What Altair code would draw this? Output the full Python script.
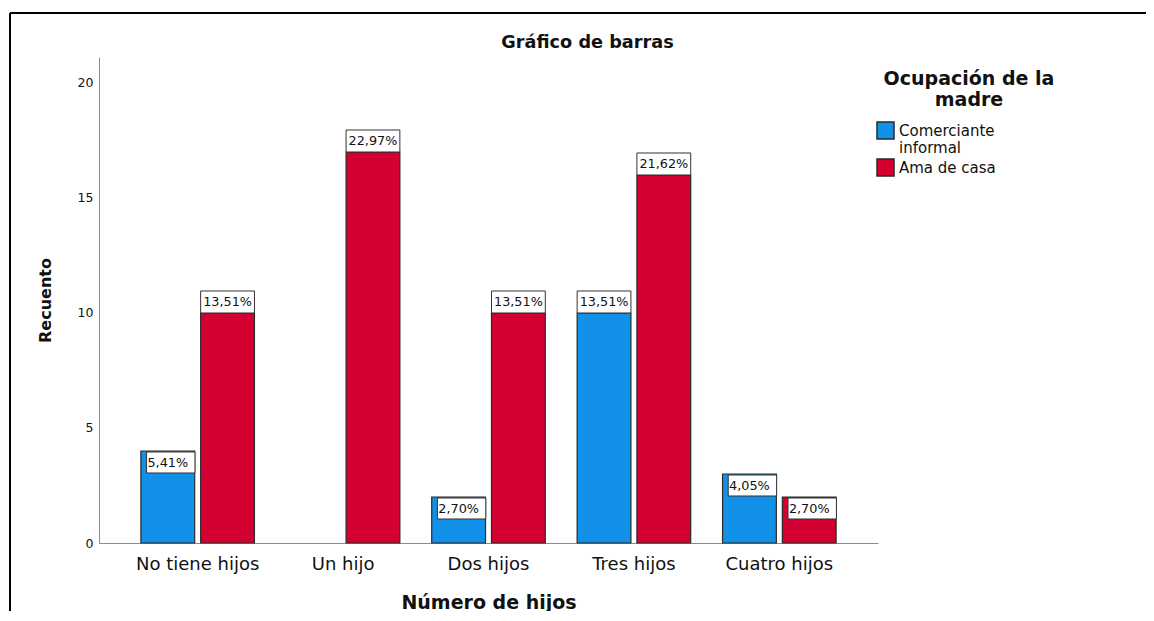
import altair as alt
import pandas as pd

categorias = ["No tiene hijos", "Un hijo", "Dos hijos", "Tres hijos", "Cuatro hijos"]
grupos = ["Comerciante informal", "Ama de casa"]
comerciante = [4, 0, 2, 10, 3]
ama_de_casa = [10, 17, 10, 16, 2]
pct_comerciante = ["5,41%", "0,00%", "2,70%", "13,51%", "4,05%"]
pct_ama = ["13,51%", "22,97%", "13,51%", "21,62%", "2,70%"]
colores = ["#1192e8", "#d50032"]
y_ticks = [0, 5, 10, 15, 20]

rows = []
for i, c in enumerate(categorias):
    rows.append({"cat": c, "grp": grupos[0], "count": comerciante[i], "pct": pct_comerciante[i]})
    rows.append({"cat": c, "grp": grupos[1], "count": ama_de_casa[i], "pct": pct_ama[i]})
df = pd.DataFrame(rows)

FONT = "DejaVu Sans"
BLANK = "\u2800" * 6

x_enc = alt.X(
    "cat:N", sort=categorias,
    scale=alt.Scale(domain=categorias, paddingInner=0.219, paddingOuter=0.288),
    axis=alt.Axis(title="Número de hijos", labelAngle=0, ticks=False, domainColor="#8c8c8c",
                  labelFont=FONT, labelFontSize=18, labelColor="#111", labelPadding=12,
                  titleFont=FONT, titleFontSize=19, titleFontWeight="bold", titleColor="#111",
                  titlePadding=20, grid=False),
)
xo_enc = alt.XOffset("grp:N", sort=grupos, scale=alt.Scale(domain=grupos, paddingInner=0.1, paddingOuter=0))
y_enc = alt.Y(
    "count:Q", stack=None,
    scale=alt.Scale(domain=[0, 21.13], nice=False, zero=True),
    axis=alt.Axis(title="Recuento", values=y_ticks, ticks=False, grid=False, domainColor="#8c8c8c",
                  labelFont=FONT, labelFontSize=12.5, labelColor="#111", labelPadding=6,
                  titleFont=FONT, titleFontSize=16, titleFontWeight="bold", titleColor="#111",
                  titlePadding=24),
)

base = alt.Chart(df)

bars = base.transform_filter("datum.count > 0").mark_bar(stroke="#2a2a2a", strokeWidth=1.2).encode(
    x=x_enc, xOffset=xo_enc, y=y_enc,
    color=alt.Color("grp:N", sort=grupos, scale=alt.Scale(domain=grupos, range=colores),
                    legend=alt.Legend(
                        title=["Ocupación de la", "madre"], orient="none", legendX=777, legendY=13,
                        titleFont=FONT, titleFontSize=19, titleFontWeight="bold", titleColor="#111",
                        titleAlign="center", titleAnchor="middle", titleLimit=400, titleLineHeight=21,
                        titlePadding=11,
                        labelFont=FONT, labelFontSize=15, labelColor="#111", labelLimit=400,
                        labelExpr="datum.label == 'Comerciante informal' ? ['Comerciante', 'informal'] : datum.label + '" + BLANK + "'",
                        symbolType="square", symbolSize=289, symbolStrokeColor="#2a2a2a",
                        symbolStrokeWidth=1.5, symbolOpacity=1, labelOffset=4, rowPadding=0, padding=0)),
)

above = base.transform_filter("datum.count >= 10")
inside = base.transform_filter("datum.count > 0 && datum.count < 10")

box_above = above.mark_bar(fill="white", stroke="#333", strokeWidth=1, y2Offset=-22,
                           width=alt.RelativeBandSize(1.0)).encode(
    x=x_enc, xOffset=xo_enc, y=y_enc, y2=alt.Y2("count:Q"))
txt_above = above.mark_text(font=FONT, fontSize=12.8, color="#111", baseline="middle", yOffset=-11).encode(
    x=x_enc, xOffset=xo_enc, y=y_enc, text="pct:N")

box_inside = inside.mark_bar(fill="white", stroke="#333", strokeWidth=1, yOffset=1, y2Offset=22,
                             width=alt.RelativeBandSize(0.9)).encode(
    x=x_enc, xOffset=xo_enc, y=y_enc, y2=alt.Y2("count:Q"))
txt_inside = inside.mark_text(font=FONT, fontSize=12.8, color="#111", baseline="middle", yOffset=12).encode(
    x=x_enc, xOffset=xo_enc, y=y_enc, text="pct:N")

frame_df = pd.DataFrame({"k": [0]})
frame_left = alt.Chart(frame_df).mark_rule(color="black", strokeWidth=2).encode(
    x=alt.value(-89), x2=alt.value(-89), y=alt.value(-44), y2=alt.value(700))
frame_top = alt.Chart(frame_df).mark_rule(color="black", strokeWidth=2).encode(
    x=alt.value(-89), x2=alt.value(1200), y=alt.value(-44), y2=alt.value(-44))

chart = alt.layer(bars, box_above, txt_above, box_inside, txt_inside, frame_left, frame_top).properties(
    width=779, height=486,
    title=alt.TitleParams("Gráfico de barras", font=FONT, fontSize=17.7, fontWeight="bold", color="#111",
                          anchor="middle", dx=99, dy=48, offset=8),
    autosize=alt.AutoSizeParams(type="none"),
    padding={"left": 91, "top": 49, "right": 268, "bottom": 68},
    background="white",
).configure_view(stroke=None)

chart.save("out.html", embed_options={"renderer": "svg", "actions": False})
